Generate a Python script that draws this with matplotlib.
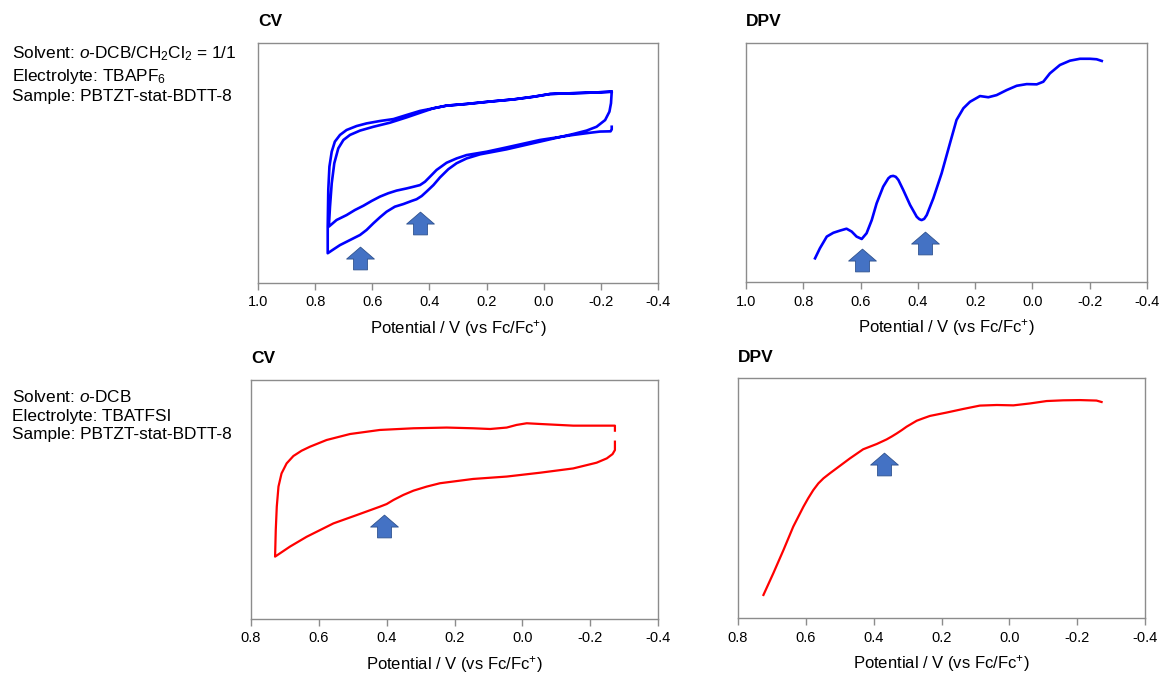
import numpy as np
import matplotlib.pyplot as plt
from matplotlib.path import Path

plt.rcParams['font.family'] = ['Liberation Sans', 'DejaVu Sans']
plt.rcParams['mathtext.fontset'] = 'custom'
plt.rcParams['mathtext.rm'] = 'Liberation Sans'
plt.rcParams['mathtext.it'] = 'Liberation Sans:italic'
plt.rcParams['mathtext.bf'] = 'Liberation Sans:bold'
plt.rcParams['axes.unicode_minus'] = False

# CV in o-DCB/CH2Cl2, TBAPF6 (two cycles, one continuous trace)
cv1_v = [-0.238, -0.162, -0.080, -0.022, 0.036, 0.106, 0.188, 0.270, 0.340, 0.386, 0.433, 0.480, 0.526,
         0.573, 0.620, 0.655, 0.690, 0.713, 0.731, 0.742, 0.750, 0.754, 0.756, 0.756,
         0.736, 0.713, 0.678, 0.643, 0.620, 0.596, 0.573, 0.550, 0.521, 0.491, 0.462, 0.445, 0.427,
         0.410, 0.386, 0.363, 0.334, 0.305, 0.270, 0.223, 0.130, 0.013, -0.104, -0.150, -0.185,
         -0.215, -0.230, -0.2355, -0.238,
         -0.162, -0.080, -0.022, 0.036, 0.106, 0.188, 0.270, 0.340, 0.386, 0.421, 0.480, 0.538,
         0.596, 0.643, 0.678, 0.701, 0.719, 0.733, 0.742, 0.748, 0.752,
         0.725, 0.690, 0.661, 0.631, 0.602, 0.573, 0.544, 0.515, 0.480, 0.456, 0.433, 0.4155, 0.398,
         0.375, 0.340, 0.305, 0.270, 0.200, 0.130, 0.013, -0.104, -0.162, -0.197, -0.234, -0.238, -0.238]
cv1_i = [79.7, 79.3, 79.0, 78.75, 77.6, 76.5, 75.6, 74.6, 73.9, 72.8, 71.7, 70.0, 68.3,
         67.5, 66.5, 65.4, 63.75, 61.7, 58.9, 54.7, 48.5, 38.8, 23.5, 12.4,
         14.0, 15.8, 17.9, 20.0, 22.1, 24.9, 27.4, 29.7, 31.8, 32.9, 34.2, 34.9, 36.25,
         38.1, 40.8, 44.0, 47.4, 49.9, 51.9, 53.6, 55.7, 58.9, 62.1, 63.5, 65.1,
         67.9, 71.4, 74.9, 79.7,
         79.3, 79.0, 78.75, 77.6, 76.5, 75.6, 74.6, 73.9, 72.8, 71.4, 69.0, 66.8,
         65.1, 63.5, 61.7, 59.6, 56.1, 49.9, 41.5, 31.8, 23.5,
         26.25, 28.3, 30.4, 32.2, 34.2, 36.0, 37.4, 38.5, 39.4, 40.1, 40.8, 42.2, 44.3,
         47.1, 50.1, 51.9, 53.3, 54.7, 56.5, 59.6, 61.7, 62.6, 63.1, 63.2, 64.0, 65.1]

# DPV in o-DCB/CH2Cl2, TBAPF6
dpv1_v = [0.759, 0.742, 0.718, 0.695, 0.672, 0.649, 0.631, 0.614, 0.596, 0.579,
          0.561, 0.544, 0.521, 0.503, 0.495, 0.486, 0.477, 0.468, 0.451, 0.427, 0.404, 0.395,
          0.387, 0.378, 0.369, 0.346, 0.317, 0.288, 0.265, 0.241, 0.218, 0.183, 0.154, 0.125,
          0.090, 0.055, 0.020, -0.015, -0.038, -0.061, -0.096, -0.131, -0.166, -0.201,
          -0.224, -0.242]
dpv1_i = [9.9, 14.1, 19.0, 20.6, 21.5, 22.3, 21.1, 19.0, 18.0, 20.4,
          25.9, 32.9, 39.9, 43.4, 44.2, 44.4, 44.0, 42.7, 38.5, 32.2, 27.3, 26.3,
          25.9, 26.4, 28.0, 35.0, 45.5, 58.0, 67.8, 72.7, 75.4, 77.8, 77.3, 78.2,
          80.3, 82.1, 82.8, 82.7, 83.8, 87.3, 90.8, 92.6, 93.4, 93.4,
          93.2, 92.5]

# CV in o-DCB, TBATFSI
cv2_v = [-0.273, -0.273, -0.266, -0.249, -0.219, -0.150, -0.052, 0.046, 0.145, 0.243, 0.282, 0.321,
         0.351, 0.380, 0.400, 0.420, 0.488, 0.557, 0.636, 0.685, 0.729,
         0.727, 0.724, 0.719, 0.710, 0.695, 0.675, 0.651, 0.626, 0.577, 0.508, 0.420, 0.321, 0.223,
         0.145, 0.095, 0.046, 0.017, -0.013, -0.052, -0.150, -0.229, -0.273, -0.273]
cv2_i = [74.2, 70.7, 69.0, 67.2, 65.4, 63.0, 61.2, 59.6, 58.6, 56.8, 55.4, 53.7,
         51.9, 49.8, 48.1, 47.0, 43.5, 40.0, 34.4, 30.3, 26.1,
         37.2, 47.0, 55.4, 60.9, 65.1, 68.2, 70.4, 72.1, 74.9, 77.4, 79.1, 79.8, 80.1,
         79.8, 79.5, 80.1, 81.2, 81.9, 81.6, 80.9, 80.9, 80.9, 78.8]

# DPV in o-DCB, TBATFSI
dpv2_v = [0.725, 0.696, 0.666, 0.637, 0.607, 0.593, 0.578, 0.563, 0.548, 0.529, 0.509, 0.470,
          0.431, 0.411, 0.391, 0.362, 0.347, 0.332, 0.317, 0.303, 0.273, 0.254, 0.234, 0.185,
          0.136, 0.087, 0.037, -0.012, -0.061, -0.110, -0.159, -0.208, -0.257, -0.272]
dpv2_i = [9.6, 18.6, 28.3, 38.1, 46.4, 49.9, 53.3, 56.1, 58.2, 60.3, 62.4, 66.5,
          70.3, 71.4, 72.5, 74.4, 75.6, 76.9, 78.3, 79.7, 82.2, 83.2, 84.2, 85.6,
          87.1, 88.5, 88.75, 88.6, 89.4, 90.4, 90.7, 90.8, 90.6, 90.0]

# arrow marks (potential, height) for each panel
arrows_cv1 = [(0.643, 10.6), (0.433, 24.8)]
arrows_dpv1 = [(0.594, 9.0), (0.375, 16.2)]
arrows_cv2 = [(0.409, 39.1)]
arrows_dpv2 = [(0.370, 64.1)]

ticks_wide = [1.0, 0.8, 0.6, 0.4, 0.2, 0.0, -0.2, -0.4]
ticks_narrow = [0.8, 0.6, 0.4, 0.2, 0.0, -0.2, -0.4]

xlabel = 'Potential / V (vs Fc/Fc$^{+}$)'

# block arrow pointing up, used as a marker
up_arrow = Path([(-0.25, -0.41), (0.25, -0.41), (0.25, -0.02), (0.5, -0.02), (0.0, 0.41),
                 (-0.5, -0.02), (-0.25, -0.02), (-0.25, -0.41)], closed=True)

fig = plt.figure(figsize=(11.61, 6.75), dpi=100)
W, H = 1161, 675


def make_axes(x0, y0, x1, y1):
    return fig.add_axes([x0 / W, 1 - y1 / H, (x1 - x0) / W, (y1 - y0) / H])


def style(ax, ticks, title, h_px):
    ax.set_xlim(ticks[0], ticks[-1])
    ax.set_ylim(0, 100)
    ax.set_xticks(ticks)
    ax.set_xticklabels([f'{t:.1f}' for t in ticks])
    ax.set_yticks([])
    for s in ax.spines.values():
        s.set_color('#8c8c8c')
        s.set_linewidth(1.0)
    ax.tick_params(axis='x', direction='out', length=5, width=1.0, color='#8c8c8c',
                   labelsize=10.5, pad=4)
    ax.set_xlabel(xlabel, fontsize=12, labelpad=6)
    ax.text(0.0, 1 + 21 / h_px, title, transform=ax.transAxes, fontsize=12.5,
            fontweight='bold', ha='left', va='center')


def draw_arrows(ax, marks):
    for v, y in marks:
        ax.plot(v, y, marker=up_arrow, markersize=20, markerfacecolor='#4472c4',
                markeredgecolor='#2f528f', markeredgewidth=0.6, linestyle='none')


ax1 = make_axes(258, 43, 658, 283)
ax1.plot(cv1_v, cv1_i, color='#0000ff', lw=1.9)
style(ax1, ticks_wide, 'CV', 240)
draw_arrows(ax1, arrows_cv1)

ax2 = make_axes(746, 43, 1147, 282)
ax2.plot(dpv1_v, dpv1_i, color='#0000ff', lw=1.9)
style(ax2, ticks_wide, 'DPV', 239)
draw_arrows(ax2, arrows_dpv1)

ax3 = make_axes(251, 380, 658, 619)
ax3.plot(cv2_v, cv2_i, color='#ff0000', lw=1.6)
style(ax3, ticks_narrow, 'CV', 239)
draw_arrows(ax3, arrows_cv2)

ax4 = make_axes(738, 378, 1145, 618)
ax4.plot(dpv2_v, dpv2_i, color='#ff0000', lw=1.6)
style(ax4, ticks_narrow, 'DPV', 240)
draw_arrows(ax4, arrows_dpv2)

# measurement conditions
info_top = ['Solvent: $\\mathit{o}$-DCB/CH$_2$Cl$_2$ = 1/1', 'Electrolyte: TBAPF$_6$',
            'Sample: PBTZT-stat-BDTT-8']
info_bottom = ['Solvent: $\\mathit{o}$-DCB', 'Electrolyte: TBATFSI', 'Sample: PBTZT-stat-BDTT-8']
for txt, y in zip(info_top, [54, 76, 97]):
    fig.text(12 / W, 1 - y / H, txt, fontsize=12.4, ha='left', va='center')
for txt, y in zip(info_bottom, [397, 416, 435]):
    fig.text(12 / W, 1 - y / H, txt, fontsize=12.4, ha='left', va='center')

fig.savefig('out.png', dpi=100)
